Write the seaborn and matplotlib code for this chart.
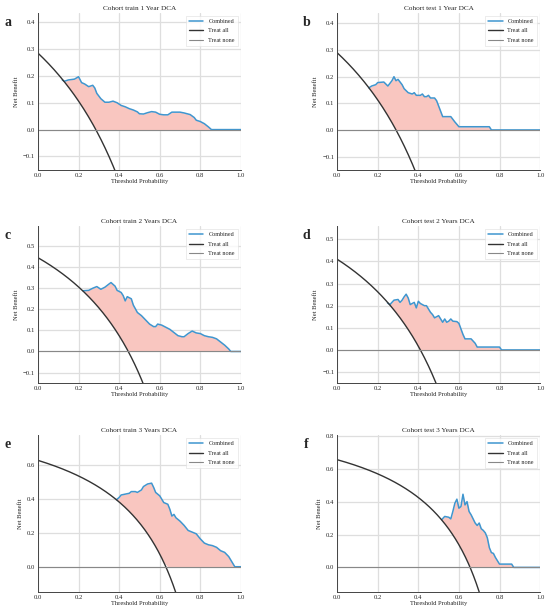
import numpy as np
import pandas as pd
import matplotlib
matplotlib.use("Agg")
import matplotlib.pyplot as plt
import seaborn as sns

# ---- data ----
titles = ["Cohort train 1 Year DCA", "Cohort test 1 Year DCA",
          "Cohort train 2 Years DCA", "Cohort test 2 Years DCA",
          "Cohort train 3 Years DCA", "Cohort test 3 Years DCA"]
letters = ["a", "b", "c", "d", "e", "f"]

# prevalence (net benefit of "treat all" at threshold 0)
prevalence = [0.285, 0.29, 0.445, 0.41, 0.63, 0.655]

# combined model net benefit
pt_a = [0.12, 0.13, 0.15, 0.18, 0.20, 0.215, 0.23, 0.25, 0.27, 0.28, 0.29, 0.30, 0.31, 0.33,
        0.35, 0.37, 0.39, 0.41, 0.43, 0.45, 0.47, 0.49, 0.50, 0.52, 0.54, 0.56, 0.58, 0.60,
        0.62, 0.64, 0.65, 0.66, 0.70, 0.72, 0.75, 0.77, 0.78, 0.80, 0.82, 0.84, 0.855, 1.0]
nb_a = [0.185, 0.18, 0.185, 0.188, 0.197, 0.175, 0.17, 0.16, 0.165, 0.155, 0.135, 0.125, 0.115, 0.102,
        0.102, 0.106, 0.10, 0.09, 0.085, 0.078, 0.073, 0.066, 0.059, 0.058, 0.063, 0.067, 0.065, 0.057,
        0.055, 0.055, 0.06, 0.065, 0.065, 0.062, 0.056, 0.045, 0.035, 0.03, 0.022, 0.01, 0.0, 0.0]

pt_b = [0.156, 0.17, 0.19, 0.20, 0.23, 0.25, 0.27, 0.28, 0.29, 0.30, 0.31, 0.32, 0.33, 0.35,
        0.37, 0.38, 0.39, 0.41, 0.42, 0.43, 0.44, 0.45, 0.46, 0.48, 0.49, 0.50, 0.51, 0.52,
        0.56, 0.58, 0.60, 0.75, 0.76, 1.0]
nb_b = [0.158, 0.165, 0.17, 0.178, 0.18, 0.165, 0.185, 0.20, 0.185, 0.19, 0.18, 0.17, 0.155, 0.14,
        0.135, 0.14, 0.13, 0.13, 0.135, 0.125, 0.125, 0.13, 0.12, 0.12, 0.11, 0.09, 0.07, 0.05,
        0.05, 0.03, 0.012, 0.012, 0.0, 0.0]

pt_c = [0.222, 0.25, 0.27, 0.29, 0.31, 0.33, 0.35, 0.36, 0.38, 0.39, 0.41, 0.42, 0.43, 0.44,
        0.46, 0.47, 0.49, 0.51, 0.53, 0.55, 0.57, 0.58, 0.59, 0.61, 0.63, 0.65, 0.67, 0.69,
        0.71, 0.72, 0.74, 0.76, 0.78, 0.80, 0.82, 0.84, 0.86, 0.88, 0.90, 0.92, 0.94, 0.95, 1.0]
nb_c = [0.288, 0.29, 0.30, 0.308, 0.295, 0.305, 0.32, 0.327, 0.31, 0.29, 0.28, 0.265, 0.24, 0.26,
        0.25, 0.22, 0.185, 0.17, 0.15, 0.13, 0.118, 0.118, 0.13, 0.125, 0.115, 0.105, 0.09, 0.075,
        0.07, 0.07, 0.085, 0.097, 0.088, 0.085, 0.075, 0.07, 0.067, 0.06, 0.045, 0.03, 0.012, 0.0, 0.0]

pt_d = [0.248, 0.26, 0.27, 0.28, 0.30, 0.31, 0.32, 0.33, 0.34, 0.35, 0.36, 0.37, 0.38, 0.39,
        0.40, 0.41, 0.43, 0.44, 0.45, 0.46, 0.47, 0.48, 0.49, 0.50, 0.51, 0.52, 0.53, 0.54,
        0.55, 0.56, 0.57, 0.59, 0.60, 0.61, 0.62, 0.63, 0.66, 0.68, 0.69, 0.80, 0.81, 1.0]
nb_d = [0.213, 0.205, 0.215, 0.225, 0.228, 0.215, 0.225, 0.24, 0.252, 0.235, 0.205, 0.21, 0.215, 0.19,
        0.22, 0.21, 0.20, 0.20, 0.185, 0.17, 0.16, 0.145, 0.15, 0.155, 0.14, 0.125, 0.14, 0.125,
        0.13, 0.14, 0.13, 0.128, 0.12, 0.095, 0.07, 0.05, 0.05, 0.03, 0.013, 0.013, 0.0, 0.0]

pt_e = [0.387, 0.40, 0.41, 0.43, 0.45, 0.46, 0.48, 0.49, 0.51, 0.52, 0.54, 0.56, 0.57, 0.58,
        0.59, 0.60, 0.61, 0.62, 0.64, 0.65, 0.66, 0.67, 0.68, 0.70, 0.72, 0.74, 0.76, 0.78,
        0.79, 0.80, 0.82, 0.84, 0.86, 0.88, 0.90, 0.92, 0.94, 0.95, 0.96, 0.97, 1.0]
nb_e = [0.397, 0.41, 0.425, 0.43, 0.435, 0.445, 0.445, 0.44, 0.455, 0.475, 0.49, 0.495, 0.47, 0.44,
        0.43, 0.42, 0.40, 0.38, 0.37, 0.34, 0.30, 0.31, 0.29, 0.27, 0.245, 0.215, 0.205, 0.195,
        0.18, 0.165, 0.14, 0.13, 0.125, 0.115, 0.095, 0.085, 0.06, 0.04, 0.02, 0.0, 0.0]

pt_f = [0.515, 0.53, 0.55, 0.56, 0.57, 0.58, 0.59, 0.60, 0.61, 0.62, 0.63, 0.64, 0.65, 0.66,
        0.67, 0.68, 0.69, 0.70, 0.71, 0.72, 0.73, 0.74, 0.75, 0.76, 0.77, 0.78, 0.79, 0.80,
        0.86, 0.87, 1.0]
nb_f = [0.29, 0.31, 0.305, 0.295, 0.34, 0.39, 0.415, 0.36, 0.37, 0.445, 0.38, 0.40, 0.34, 0.32,
        0.295, 0.27, 0.255, 0.27, 0.235, 0.225, 0.21, 0.18, 0.12, 0.09, 0.085, 0.06, 0.04, 0.02,
        0.02, 0.0, 0.0]

thresholds = [pt_a, pt_b, pt_c, pt_d, pt_e, pt_f]
combined = [nb_a, nb_b, nb_c, nb_d, nb_e, nb_f]

x_ticks = [0.0, 0.2, 0.4, 0.6, 0.8, 1.0]


def treat_all_nb(p, pt):
    pt = np.asarray(pt, dtype=float)
    return p - (1 - p) * pt / (1 - pt)


sns.set_theme(style="whitegrid")
plt.rcParams["font.family"] = ["Liberation Serif", "DejaVu Serif"]

fig = plt.figure(figsize=(5.5, 6.11), dpi=100)

lefts = [0.069, 0.613]
bottoms = [0.722, 0.373, 0.031]
w, h = 0.369, 0.257

blue = "#3f96cf"
pink = "#f9c6c0"

for i in range(6):
    row, col = divmod(i, 2)
    ax = fig.add_axes([lefts[col], bottoms[row], w, h])
    p = prevalence[i]

    grid_pt = np.linspace(0, 0.99, 300)
    df_all = pd.DataFrame({"pt": grid_pt, "nb": treat_all_nb(p, grid_pt)})
    df_comb = pd.DataFrame({"pt": thresholds[i], "nb": combined[i]})
    df_none = pd.DataFrame({"pt": [0.0, 1.0], "nb": [0.0, 0.0]})

    base = np.maximum(treat_all_nb(p, np.minimum(df_comb["pt"], 0.999)), 0)
    ax.fill_between(df_comb["pt"], base, df_comb["nb"],
                    where=df_comb["nb"] >= base, color=pink, lw=0, interpolate=True)

    sns.lineplot(data=df_comb, x="pt", y="nb", ax=ax, color=blue, lw=1.1, label="Combined")
    sns.lineplot(data=df_all, x="pt", y="nb", ax=ax, color="#333333", lw=1.0, label="Treat all")
    sns.lineplot(data=df_none, x="pt", y="nb", ax=ax, color="#888888", lw=0.8, label="Treat none")

    ax.set_xlim(0, 1)
    ax.set_ylim(-0.15, p + 0.15)
    ax.set_xticks(x_ticks)
    ax.set_title(titles[i], fontsize=5.2, pad=2)
    ax.set_xlabel("Threshold Probability", fontsize=4.7, labelpad=1)
    ax.set_ylabel("Net Benefit", fontsize=4.7, labelpad=3)
    ax.tick_params(labelsize=4.8, pad=2, length=0)
    ax.grid(color="#dedede", lw=0.9)
    for side in ["top", "right"]:
        ax.spines[side].set_visible(False)
    for side in ["left", "bottom"]:
        ax.spines[side].set_color("#444444")
        ax.spines[side].set_linewidth(0.7)

    leg = ax.legend(loc="upper right", fontsize=4.4, frameon=True, handlelength=2.4,
                    borderpad=0.5, labelspacing=0.65, fancybox=False, handletextpad=0.8)
    leg.get_frame().set_edgecolor("#dddddd")
    leg.get_frame().set_linewidth(0.5)

    ax.text(-0.15, 0.94, letters[i], transform=ax.transAxes, fontsize=10,
            fontweight="bold", ha="center", va="center")

fig.savefig("out.png", dpi=100)
